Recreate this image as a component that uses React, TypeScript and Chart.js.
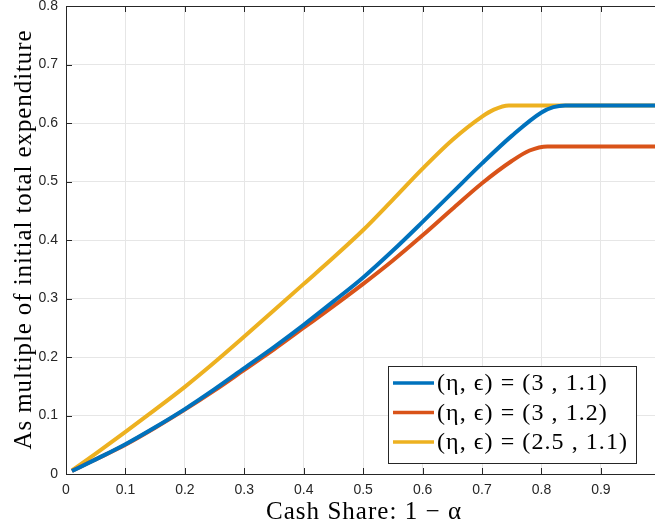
import React, { useEffect, useRef } from 'react';
import { Chart, registerables } from 'chart.js';
Chart.register(...registerables);

const xTickValues = [0, 0.1, 0.2, 0.3, 0.4, 0.5, 0.6, 0.7, 0.8, 0.9];
const yTickValues = [0, 0.1, 0.2, 0.3, 0.4, 0.5, 0.6, 0.7, 0.8];

const xTitle = 'Cash Share: 1 − α';
const yTitle = 'As multiple of initial total expenditure';

const seriesLabels = ['(η, ϵ) = (3 , 1.1)', '(η, ϵ) = (3 , 1.2)', '(η, ϵ) = (2.5 , 1.1)'];
const seriesColors = ['#0072BD', '#D95319', '#EDB120'];

const xBlue = [0.01, 0.05, 0.1, 0.15, 0.2, 0.25, 0.3, 0.35, 0.4, 0.45, 0.5, 0.55, 0.6, 0.65, 0.7, 0.75, 0.8, 0.82, 0.84, 0.9, 0.991];
const yBlue = [0.005, 0.025, 0.051, 0.080, 0.111, 0.145, 0.181, 0.217, 0.255, 0.295, 0.336, 0.382, 0.431, 0.481, 0.531, 0.578, 0.618, 0.627, 0.63, 0.63, 0.63];

const xRed = [0.01, 0.05, 0.1, 0.15, 0.2, 0.25, 0.3, 0.35, 0.4, 0.45, 0.5, 0.55, 0.6, 0.65, 0.7, 0.75, 0.78, 0.81, 0.9, 0.991];
const yRed = [0.005, 0.025, 0.050, 0.079, 0.110, 0.143, 0.178, 0.213, 0.250, 0.287, 0.325, 0.365, 0.408, 0.453, 0.497, 0.535, 0.553, 0.56, 0.56, 0.56];

const xYellow = [0.01, 0.05, 0.1, 0.15, 0.2, 0.25, 0.3, 0.35, 0.4, 0.45, 0.5, 0.55, 0.6, 0.65, 0.7, 0.72, 0.745, 0.8, 0.9, 0.991];
const yYellow = [0.006, 0.035, 0.072, 0.110, 0.149, 0.191, 0.235, 0.280, 0.325, 0.370, 0.417, 0.469, 0.522, 0.571, 0.611, 0.623, 0.63, 0.63, 0.63, 0.63];

const AXIS_COLOR = '#262626';
const GRID_COLOR = '#e6e6e6';
const SERIF = '"Liberation Serif", "DejaVu Serif", serif';
const SANS = '"Liberation Sans", Arial, sans-serif';

const pts = (xs: number[], ys: number[]) => xs.map((x, i) => ({ x, y: ys[i] }));

function spacingFor(ctx: CanvasRenderingContext2D, text: string, target: number) {
  (ctx as any).letterSpacing = '0px';
  const w = ctx.measureText(text).width;
  const n = Array.from(text).length;
  return Math.max(0, (target - w) / n);
}

const boxPlugin = {
  id: 'matlabBox',
  afterDatasetsDraw(chart: any) {
    const { ctx, chartArea } = chart;
    const { left, right, top, bottom } = chartArea;
    const xs = chart.scales.x;
    const ys = chart.scales.y;
    ctx.save();
    ctx.strokeStyle = AXIS_COLOR;
    ctx.lineWidth = 1;
    ctx.beginPath();
    ctx.moveTo(left, top + 0.5);
    ctx.lineTo(right, top + 0.5);
    ctx.stroke();
    // inward ticks
    ctx.beginPath();
    xTickValues.forEach((v) => {
      const px = Math.round(xs.getPixelForValue(v)) + 0.5;
      ctx.moveTo(px, bottom);
      ctx.lineTo(px, bottom - 6);
      ctx.moveTo(px, top);
      ctx.lineTo(px, top + 6);
    });
    yTickValues.forEach((v) => {
      const py = Math.round(ys.getPixelForValue(v)) + 0.5;
      ctx.moveTo(left, py);
      ctx.lineTo(left + 6, py);
    });
    ctx.stroke();

    // axis titles
    ctx.fillStyle = '#000000';
    ctx.font = `25px ${SERIF}`;
    ctx.textAlign = 'center';
    ctx.textBaseline = 'alphabetic';
    let ls = spacingFor(ctx, xTitle, 196);
    (ctx as any).letterSpacing = `${ls}px`;
    ctx.fillText(xTitle, (left + right) / 2 + 3 + ls / 2, 519);
    ls = spacingFor(ctx, yTitle, 420);
    ctx.save();
    ctx.translate(31, (top + bottom) / 2);
    ctx.rotate(-Math.PI / 2);
    (ctx as any).letterSpacing = `${ls}px`;
    ctx.fillText(yTitle, ls / 2, 0);
    ctx.restore();

    // legend
    const bw = 248;
    const bh = 97;
    const bx = right - 19 - bw;
    const by = bottom - 11 - bh;
    ctx.fillStyle = '#ffffff';
    ctx.fillRect(bx, by, bw, bh);
    ctx.strokeStyle = AXIS_COLOR;
    ctx.lineWidth = 1;
    ctx.strokeRect(Math.round(bx) + 0.5, Math.round(by) + 0.5, bw, bh);
    ctx.font = `24px ${SERIF}`;
    const legLs = spacingFor(ctx, seriesLabels[2], 191);
    chart.data.datasets.forEach((ds: any, i: number) => {
      const cy = by + 17 + i * 29.5;
      ctx.strokeStyle = ds.borderColor;
      ctx.lineWidth = 3.5;
      ctx.beginPath();
      ctx.moveTo(bx + 5, cy);
      ctx.lineTo(bx + 46, cy);
      ctx.stroke();
      ctx.fillStyle = '#000000';
      (ctx as any).letterSpacing = `${legLs}px`;
      ctx.textBaseline = 'middle';
      ctx.textAlign = 'left';
      ctx.fillText(ds.label, bx + 49, cy + 1);
      (ctx as any).letterSpacing = '0px';
    });
    ctx.restore();
  },
};

export default function App() {
  const canvasRef = useRef<HTMLCanvasElement | null>(null);

  useEffect(() => {
    document.body.style.margin = '0';
    const canvas = canvasRef.current;
    if (!canvas) return;
    const mk = (i: number, xs: number[], ys: number[]) => ({
      label: seriesLabels[i],
      data: pts(xs, ys),
      borderColor: seriesColors[i],
      backgroundColor: seriesColors[i],
      borderWidth: 4,
      pointRadius: 0,
      cubicInterpolationMode: 'monotone' as const,
      fill: false,
    });
    const chart = new Chart(canvas, {
      type: 'line',
      data: {
        datasets: [mk(0, xBlue, yBlue), mk(1, xRed, yRed), mk(2, xYellow, yYellow)],
      },
      options: {
        animation: false,
        responsive: false,
        maintainAspectRatio: false,
        layout: { padding: { top: 6, right: 0, left: 0, bottom: 0 } },
        plugins: { legend: { display: false }, tooltip: { enabled: false } },
        scales: {
          x: {
            type: 'linear',
            min: 0,
            max: 0.991,
            afterBuildTicks: (s: any) => {
              s.ticks = xTickValues.map((v) => ({ value: v }));
            },
            afterFit: (s: any) => {
              s.height = 55;
              s.paddingLeft = 0;
              s.paddingRight = 0;
            },
            grid: { color: GRID_COLOR, drawTicks: false },
            border: { color: AXIS_COLOR, width: 1 },
            ticks: {
              padding: 8,
              color: AXIS_COLOR,
              font: { family: SANS, size: 14 },
              maxRotation: 0,
              callback: (v: any) => String(v),
            },
            title: { display: false },
          },
          y: {
            type: 'linear',
            min: 0,
            max: 0.8,
            afterBuildTicks: (s: any) => {
              s.ticks = yTickValues.map((v) => ({ value: v }));
            },
            afterFit: (s: any) => {
              s.width = 66;
              s.paddingTop = 0;
              s.paddingBottom = 0;
            },
            grid: { color: GRID_COLOR, drawTicks: false },
            border: { color: AXIS_COLOR, width: 1 },
            ticks: {
              padding: 8,
              color: AXIS_COLOR,
              font: { family: SANS, size: 14 },
              callback: (v: any) => String(v),
            },
            title: { display: false },
          },
        },
      },
      plugins: [boxPlugin],
    });
    return () => chart.destroy();
  }, []);

  return (
    <div style={{ position: 'absolute', left: 0, top: 0, width: 655, height: 529 }}>
      <canvas ref={canvasRef} width={655} height={529} style={{ width: 655, height: 529 }} />
    </div>
  );
}
